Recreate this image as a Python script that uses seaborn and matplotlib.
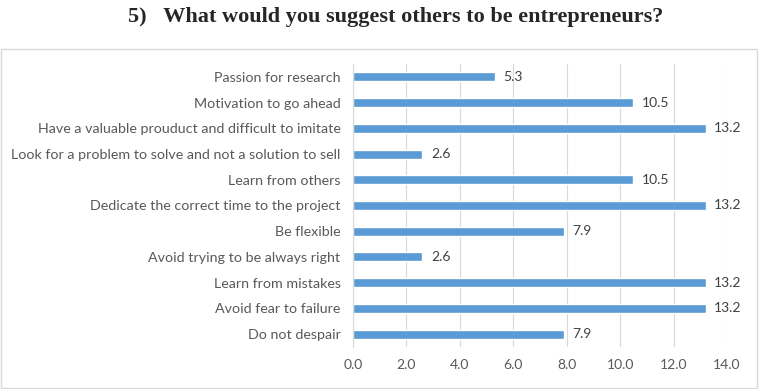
import pandas as pd
import matplotlib.pyplot as plt
import matplotlib.patches as patches
import seaborn as sns

# ============================================================
# Data
# ============================================================

answers = [
    "Passion for research",
    "Motivation to go ahead",
    "Have a valuable prouduct and difficult to imitate",
    "Look for a problem to solve and not a solution to sell",
    "Learn from others",
    "Dedicate the correct time to the project",
    "Be flexible",
    "Avoid trying to be always right",
    "Learn from mistakes",
    "Avoid fear to failure",
    "Do not despair",
]
percent = [5.3, 10.5, 13.2, 2.6, 10.5, 13.2, 7.9, 2.6, 13.2, 13.2, 7.9]
x_ticks = [0, 2, 4, 6, 8, 10, 12, 14]

df = pd.DataFrame({"Answer": answers, "Percent": percent})

# ============================================================
# Plot
# ============================================================

sns.set_style("white")
plt.rcParams["font.family"] = ["Lato", "DejaVu Sans"]

fig = plt.figure(figsize=(7.61, 3.89), dpi=100)
ax = fig.add_axes([0.4639, 0.108, 0.4914, 0.7275])

sns.barplot(
    data=df,
    x="Percent",
    y="Answer",
    orient="h",
    color="#5B9BD5",
    width=0.35,
    saturation=1,
    ax=ax,
)

ax.set_xlim(0, 14)
ax.set_xticks(x_ticks)
ax.set_xticklabels([f"{t:.1f}" for t in x_ticks])
ax.set_xlabel("")
ax.set_ylabel("")
ax.grid(axis="x", color="#D9D9D9", linewidth=0.8)
ax.set_axisbelow(True)

for s in ["top", "right", "bottom"]:
    ax.spines[s].set_visible(False)
ax.spines["left"].set_color("#D9D9D9")
ax.spines["left"].set_linewidth(0.8)

ax.tick_params(axis="y", length=0, labelsize=10.3, labelcolor="#595959", pad=9)
ax.tick_params(axis="x", length=0, labelsize=10, labelcolor="#595959", pad=9)

for container in ax.containers:
    ax.bar_label(container, fmt="%.1f", padding=6, fontsize=10, color="#404040")

# chart border
fig.patches.append(patches.Rectangle(
    (0.001, 0.003), 0.994, 0.871, transform=fig.transFigure,
    fill=False, edgecolor="#D9D9D9", linewidth=1.0))

fig.text(0.52, 0.957, "5)   What would you suggest others to be entrepreneurs?",
         ha="center", va="center", fontsize=16, fontweight="bold",
         family=["Liberation Serif", "DejaVu Serif"])

plt.savefig("out.png", dpi=100)
